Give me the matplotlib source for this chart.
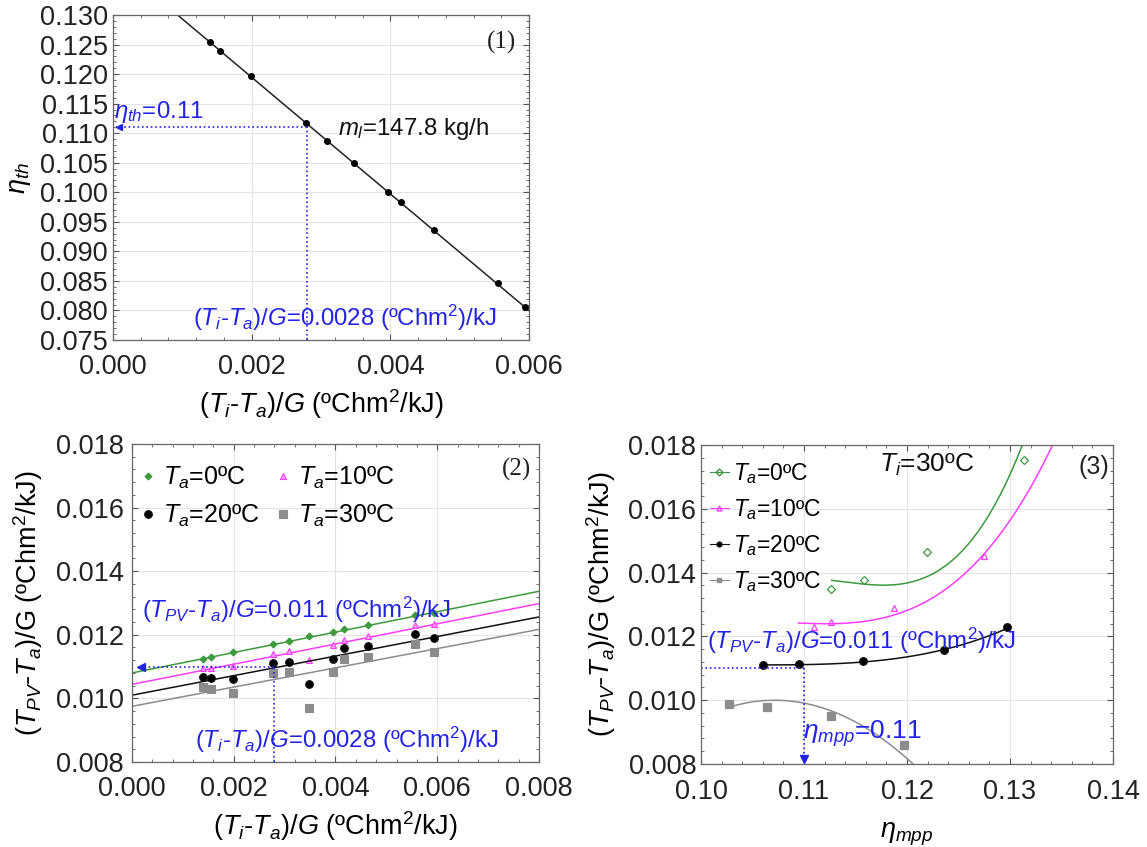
import matplotlib
matplotlib.use('Agg')
import matplotlib.pyplot as plt
import numpy as np
from matplotlib.ticker import MultipleLocator, FormatStrFormatter

plt.rcParams['font.family'] = ['Liberation Sans', 'DejaVu Sans']
plt.rcParams['mathtext.fontset'] = 'custom'
plt.rcParams['mathtext.rm'] = 'Liberation Sans'
plt.rcParams['mathtext.it'] = 'Liberation Sans:italic'
plt.rcParams['mathtext.bf'] = 'Liberation Sans:bold'
plt.rcParams['font.size'] = 15

# ---- data ----
# panel (1): thermal efficiency vs reduced temperature
x_red = [0.00140, 0.00155, 0.00199, 0.00278, 0.00309, 0.00348,
         0.00396, 0.00416, 0.00463, 0.00556, 0.00594]
eta_th = [0.1254, 0.1239, 0.1196, 0.1117, 0.1087, 0.1050,
          0.1001, 0.0983, 0.0936, 0.0846, 0.0806]
eta_fit = [0.1392, -9.87]  # intercept, slope

# panel (2): (Tpv-Ta)/G vs (Ti-Ta)/G for four ambient temperatures
ta_labels = ['0', '10', '20', '30']
pv_ta0 = [0.01125, 0.01131, 0.01146, 0.01171, 0.01181, 0.01195,
          0.01210, 0.01217, 0.01232, 0.01262, 0.01269]
pv_ta10 = [0.01094, 0.01097, 0.01102, 0.01139, 0.01149, 0.01120,
           0.01167, 0.01185, 0.01197, 0.01230, 0.01233]
pv_ta20 = [0.01068, 0.01064, 0.01061, 0.01112, 0.01115, 0.01044,
           0.01124, 0.01158, 0.01166, 0.01202, 0.01190]
pv_ta30 = [0.01036, 0.01031, 0.01017, 0.01080, 0.01082, 0.00971,
           0.01082, 0.01125, 0.01131, 0.01172, 0.01147]
# linear fits: (intercept, slope)
fit_ta0 = [0.01080, 0.321]
fit_ta10 = [0.01044, 0.3175]
fit_ta20 = [0.01010, 0.3075]
fit_ta30 = [0.00975, 0.3025]

# panel (3): (Tpv-Ta)/G vs eta_mpp at Ti=30C
mpp_ta0 = [0.11258, 0.11581, 0.12190, 0.13140]
pvm_ta0 = [0.01348, 0.01378, 0.01465, 0.01753]
mpp_ta10 = [0.11093, 0.11265, 0.11871, 0.12748]
pvm_ta10 = [0.01231, 0.01245, 0.01290, 0.01452]
mpp_ta20 = [0.10603, 0.10952, 0.11571, 0.12361, 0.12968]
pvm_ta20 = [0.01109, 0.01114, 0.01123, 0.01156, 0.01231]
mpp_ta30 = [0.10274, 0.10639, 0.11265, 0.11974]
pvm_ta30 = [0.00988, 0.00980, 0.00952, 0.00858]
# fitted trend curves
curve_x0 = [0.11269, 0.11576, 0.11835, 0.12126, 0.12450, 0.12709, 0.12968, 0.13113]
curve_y0 = [0.01379, 0.01357, 0.01360, 0.01386, 0.01444, 0.01533, 0.01680, 0.01800]
curve_x10 = [0.10945, 0.11252, 0.11576, 0.11900, 0.12223, 0.12547, 0.12741, 0.13033, 0.13405]
curve_y10 = [0.01250, 0.01231, 0.01231, 0.01281, 0.01334, 0.01397, 0.01438, 0.01575, 0.01800]
curve_x20 = [0.1060, 0.1100, 0.1160, 0.1236, 0.1297]
curve_y20 = [0.01111, 0.01110, 0.01122, 0.01158, 0.01225]
curve_x30 = [0.1030, 0.1057, 0.1127, 0.1206]
curve_y30 = [0.00980, 0.00999, 0.00965, 0.00800]

green = '#3c9a3c'
pink = '#ff3cff'
gray = '#8c8c8c'
blue = '#2323e6'
TICK = 19.5
LAB = 19.5
ANN = 17.3

fig = plt.figure(figsize=(11.47, 8.47), dpi=100)
ax1 = fig.add_axes([0.0985, 0.5986, 0.3627, 0.3837])
ax2 = fig.add_axes([0.1151, 0.1004, 0.3548, 0.3754])
ax3 = fig.add_axes([0.6112, 0.0980, 0.3592, 0.3766])


def style(ax):
    ax.grid(True, color='#e4e4e4', lw=0.8)
    ax.set_axisbelow(True)
    ax.tick_params(which='both', direction='in', top=True, right=True,
                   colors='#555555', labelcolor='#222222', labelsize=TICK)
    ax.tick_params(which='major', length=4)
    ax.tick_params(which='minor', length=2)
    ax.tick_params(axis='x', pad=10)
    ax.tick_params(axis='y', pad=3.5)
    for s in ax.spines.values():
        s.set_color('#666666')
        s.set_linewidth(0.9)


# ---- panel 1 ----
style(ax1)
xx = np.array([0.0, 0.006])
ax1.plot(xx, eta_fit[0] + eta_fit[1] * xx, color='#222222', lw=1.1)
ax1.plot(x_red, eta_th, 'o', color='black', ms=4)
ax1.set_xlim(0, 0.006)
ax1.set_ylim(0.075, 0.130)
ax1.xaxis.set_major_locator(MultipleLocator(0.002))
ax1.xaxis.set_minor_locator(MultipleLocator(0.0004))
ax1.yaxis.set_major_locator(MultipleLocator(0.005))
ax1.yaxis.set_minor_locator(MultipleLocator(0.001))
ax1.xaxis.set_major_formatter(FormatStrFormatter('%.3f'))
ax1.yaxis.set_major_formatter(FormatStrFormatter('%.3f'))
ax1.plot([0.0028, 0.0028], [0.075, 0.111], ':', color=blue, lw=1.2)
ax1.plot([0.0028, 0.00005], [0.111, 0.111], ':', color=blue, lw=1.2)
ax1.plot([0.00008], [0.111], marker='<', color=blue, ms=5)
ax1.text(0.00002, 0.1135, r'$\eta_{th}$=0.11', color=blue, fontsize=ANN, va='center')
ax1.text(0.00325, 0.1107, r'$m_l$=147.8 kg/h', color='#111111', fontsize=ANN, va='center')
ax1.text(0.00115, 0.0788, r'($T_i$-$T_a$)/$G$=0.0028 (ºChm$^2$)/kJ', color=blue,
         fontsize=ANN, va='center')
ax1.text(0.0056, 0.1254, '(1)', family='Liberation Serif', fontsize=18,
         ha='center', va='center', color='#222222')
ax1.set_xlabel(r'($T_i$-$T_a$)/$G$ (ºChm$^2$/kJ)', fontsize=LAB, labelpad=5)
ax1.set_ylabel(r'$\eta_{th}$', fontsize=LAB, labelpad=5)

# ---- panel 2 ----
style(ax2)
xx = np.array([0.0, 0.008])
series2 = [(pv_ta0, fit_ta0, green, 'D', 3.5, green),
           (pv_ta10, fit_ta10, pink, '^', 5, '#ff9cff'),
           (pv_ta20, fit_ta20, '#111111', 'o', 5.5, 'black'),
           (pv_ta30, fit_ta30, gray, 's', 5.5, gray)]
handles = []
for (vals, fit, col, mk, ms, fc), lab in zip(series2, ta_labels):
    ax2.plot(xx, fit[0] + fit[1] * xx, color=col, lw=1.1)
    h, = ax2.plot(x_red, vals, mk, color=col, mfc=fc, ms=ms, mew=0.8,
                  label=r'$T_a$=' + lab + 'ºC')
    handles.append(h)
ax2.set_xlim(0, 0.008)
ax2.set_ylim(0.008, 0.018)
ax2.xaxis.set_major_locator(MultipleLocator(0.002))
ax2.xaxis.set_minor_locator(MultipleLocator(0.0004))
ax2.yaxis.set_major_locator(MultipleLocator(0.002))
ax2.yaxis.set_minor_locator(MultipleLocator(0.0004))
ax2.xaxis.set_major_formatter(FormatStrFormatter('%.3f'))
ax2.yaxis.set_major_formatter(FormatStrFormatter('%.3f'))
ax2.tick_params(axis='y', pad=6)
ax2.plot([0.0028, 0.0028], [0.008, 0.011], ':', color=blue, lw=1.2)
ax2.plot([0.0028, 0.0002], [0.011, 0.011], ':', color=blue, lw=1.2)
ax2.plot([0.00018], [0.011], marker='<', color=blue, ms=6)
ax2.text(0.0002, 0.01277, r'($T_{PV}$-$T_a$)/$G$=0.011 (ºChm$^2$)/kJ', color=blue,
         fontsize=ANN, va='center')
ax2.text(0.00124, 0.00868, r'($T_i$-$T_a$)/$G$=0.0028 (ºChm$^2$)/kJ', color=blue,
         fontsize=ANN, va='center')
ax2.text(0.00756, 0.01721, '(2)', family='Liberation Serif', fontsize=18,
         ha='center', va='center', color='#222222')
# row-wise order: 0, 10 / 20, 30
ax2.legend(handles=[handles[0], handles[2], handles[1], handles[3]], ncol=2,
           loc='upper left', frameon=False, fontsize=18, handlelength=0.5,
           handletextpad=0.35, columnspacing=0.7, labelspacing=0.5,
           borderaxespad=0.0, bbox_to_anchor=(0.0, 0.967))
ax2.set_xlabel(r'($T_i$-$T_a$)/$G$ (ºChm$^2$/kJ)', fontsize=LAB, labelpad=5)
ax2.set_ylabel(r'($T_{PV}$-$T_a$)/G (ºChm$^2$/kJ)', fontsize=LAB, labelpad=7.5)

# ---- panel 3 ----
style(ax3)
series3 = [(mpp_ta0, pvm_ta0, curve_x0, curve_y0, 3, green, 'D', 4.5, 'none', 0.1320),
           (mpp_ta10, pvm_ta10, curve_x10, curve_y10, 3, pink, '^', 5, 'none', 0.1350),
           (mpp_ta20, pvm_ta20, curve_x20, curve_y20, 3, '#111111', 'o', 5.5, 'black', 0.1297),
           (mpp_ta30, pvm_ta30, curve_x30, curve_y30, 2, gray, 's', 5.5, gray, 0.1215)]
handles3 = []
for (mx, my, cx, cy, deg, col, mk, ms, fc, xend), lab in zip(series3, ta_labels):
    coef = np.polyfit(cx, cy, deg)
    xs = np.linspace(cx[0], xend, 200)
    ax3.plot(xs, np.polyval(coef, xs), color=col, lw=1.1)
    ax3.plot(mx, my, mk, color=col, mfc=fc, ms=ms, mew=0.9)
    h, = ax3.plot([], [], marker=mk, color=col, mfc=fc, ms=3.5, lw=0.8,
                  label=r'$T_a$=' + lab + 'ºC')
    handles3.append(h)
ax3.set_xlim(0.10, 0.14)
ax3.set_ylim(0.008, 0.018)
ax3.xaxis.set_major_locator(MultipleLocator(0.01))
ax3.xaxis.set_minor_locator(MultipleLocator(0.002))
ax3.yaxis.set_major_locator(MultipleLocator(0.002))
ax3.yaxis.set_minor_locator(MultipleLocator(0.0004))
ax3.xaxis.set_major_formatter(FormatStrFormatter('%.2f'))
ax3.yaxis.set_major_formatter(FormatStrFormatter('%.3f'))
ax3.tick_params(axis='x', pad=11)
ax3.plot([0.100, 0.110], [0.011, 0.011], ':', color=blue, lw=1.2)
ax3.plot([0.110, 0.110], [0.011, 0.0082], ':', color=blue, lw=1.2)
ax3.plot([0.110], [0.00815], marker='v', color=blue, ms=6)
ax3.text(0.10055, 0.01187, r'($T_{PV}$-$T_a$)/$G$=0.011 (ºChm$^2$)/kJ', color=blue,
         fontsize=ANN, va='center')
ax3.text(0.1099, 0.00894, r'$\eta_{mpp}$=0.11', color=blue, fontsize=19, va='center')
ax3.text(0.1173, 0.01737, r'$T_i$=30ºC', color='#111111', fontsize=19, va='center')
ax3.text(0.1381, 0.01731, '(3)', fontsize=18, ha='center', va='center', color='#222222')
ax3.legend(handles=handles3, loc='upper left', frameon=False, fontsize=16.5,
           handlelength=0.8, handletextpad=0.2, labelspacing=0.48,
           borderaxespad=0.0, bbox_to_anchor=(0.0, 0.978))
ax3.set_xlabel(r'$\eta_{mpp}$', fontsize=LAB, labelpad=11)
ax3.set_ylabel(r'($T_{PV}$-$T_a$)/G (ºChm$^2$/kJ)', fontsize=LAB, labelpad=7.5)

fig.savefig('out.png', dpi=100)
